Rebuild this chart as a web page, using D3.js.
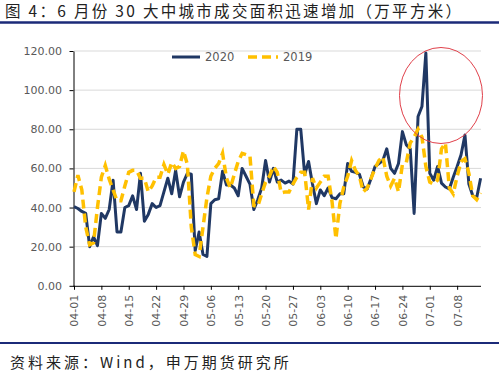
<!DOCTYPE html>
<html><head><meta charset="utf-8">
<script src="https://cdn.jsdelivr.net/npm/d3@7"></script>
<style>body{margin:0;background:#fff} svg{display:block}</style>
</head><body><svg id="c" width="499" height="372"></svg>
<script>
const titleText = "图 4：6 月份 30 大中城市成交面积迅速增加（万平方米）";
const sourceText = "资料来源：Wind，申万期货研究所";
const seriesNames = ["2020", "2019"];
const startDate = new Date(2020, 3, 1);
const endDate = new Date(2020, 6, 15); // exclusive -> last day 07-14
const tickLabels = ["04-01","04-08","04-15","04-22","04-29","05-06","05-13","05-20","05-27","06-03","06-10","06-17","06-24","07-01","07-08"];
const yTicks = [0, 20, 40, 60, 80, 100, 120];

const v2020 = [40.5,39.5,38,37,20,25,20.5,37,34.5,39,
  54,27.5,27.5,40,41,46,39,57.5,33,36.5,
  42,40,41,48,55,47,59,45.5,53,57.5,
  57,18,27.5,16,15,42,44,44.5,58.5,51.5,
  51.5,50,46,60,56,52,39,44,50,64,
  53,60,53,54,52.5,53.5,52,80,80,57,
  63.5,52,42,49,46,50,45,44.5,47,47,
  62.5,58.5,58,57,50.5,49.5,55,61,62.5,64,
  70,60,57.5,62.5,78.8,72,70,37,86.5,91.6,
  119,57.5,54,61,52.5,50.5,49.5,55.5,61,67,
  77,52,46,45,55];
const v2019 = [48,56.5,49,30,21,22,40,55.5,61.5,54.5,
  49,43.5,43.5,51,58,59,59,55,55,48,
  51,55.5,55.5,62,57,63,60,61,69,62,
  30,16,15,30,45,56,60,62.5,67.7,55,
  50,57,63.5,67.7,67,66.5,41,40.5,47,53,
  56,61,58,47.5,48,48,52,55.5,58,58,
  39,55,50,53,56,56,43,24,42,50.5,
  56,64,59,56,48,50,55,60,64,66,
  56,51,55,48,62,63,73,76,80,76,
  61,53,52,54,70,73,50,47,56,63.5,
  65,57.5,46,44,47.5];

const dates = d3.timeDay.range(startDate, endDate);
const parseTick = s => new Date(2020, +s.slice(0,2) - 1, +s.slice(3));
const tickDates = tickLabels.map(parseTick);

const svg = d3.select("#c");
const gray = "#595959";
const axisFont = "'DejaVu Sans', sans-serif";
const cjkFont = "'Noto Sans CJK SC', 'Noto Sans', sans-serif";

// title
svg.append("text").attr("x", 5).attr("y", 17)
  .attr("font-family", cjkFont).attr("font-size", 15.5).attr("letter-spacing", 2.3)
  .attr("fill", "#222").text(titleText);
svg.append("line").attr("x1", 0).attr("x2", 499).attr("y1", 22.5).attr("y2", 22.5)
  .attr("stroke", "#1B2A78").attr("stroke-width", 2.5);

// scales
const x = d3.scaleTime().domain([dates[0], dates[dates.length - 1]]).range([74, 480.6]);
const y = d3.scaleLinear().domain([0, 120]).range([285.8, 51]);

// gridlines
svg.append("g").selectAll("line").data(yTicks.filter(d => d > 0)).join("line")
  .attr("x1", 74).attr("x2", 481).attr("y1", d => y(d)).attr("y2", d => y(d))
  .attr("stroke", "#D9D9D9").attr("stroke-width", 1);

// y axis
const yAxis = svg.append("g").attr("transform", "translate(73.5,0)")
  .call(d3.axisLeft(y).tickValues(yTicks).tickSize(4).tickSizeOuter(0).tickPadding(7.5).tickFormat(d3.format(".2f")));
yAxis.selectAll("text").attr("font-family", axisFont).attr("font-size", 11).attr("fill", gray);
yAxis.selectAll("path,line").attr("stroke", "#000");

// x axis
const xAxis = svg.append("g").attr("transform", "translate(0,285.8)")
  .call(d3.axisBottom(x).tickValues(tickDates).tickSize(4).tickSizeOuter(0).tickFormat((d, i) => tickLabels[i]));
xAxis.select(".domain").attr("d", "M73,0.5H481");
xAxis.selectAll("path,line").attr("stroke", "#000");
xAxis.selectAll("text").attr("font-family", axisFont).attr("font-size", 11).attr("fill", gray)
  .attr("transform", "rotate(-90)").attr("text-anchor", "end")
  .attr("x", -9).attr("y", 0).attr("dy", "0.35em");

// lines
const line = d3.line().x((d, i) => x(dates[i])).y(d => y(d));
svg.append("path").datum(v2020).attr("d", line).attr("fill", "none")
  .attr("stroke", "#203864").attr("stroke-width", 3).attr("stroke-linejoin", "round");
svg.append("path").datum(v2019).attr("d", line).attr("fill", "none")
  .attr("stroke", "#FFC000").attr("stroke-width", 3.5).attr("stroke-dasharray", "9,5");

// legend
const leg = svg.append("g");
leg.append("line").attr("x1", 172).attr("x2", 200).attr("y1", 57).attr("y2", 57)
  .attr("stroke", "#203864").attr("stroke-width", 3);
leg.append("text").attr("x", 205).attr("y", 61).text(seriesNames[0]);
leg.append("line").attr("x1", 248).attr("x2", 278).attr("y1", 57).attr("y2", 57)
  .attr("stroke", "#FFC000").attr("stroke-width", 3.5).attr("stroke-dasharray", "9,5");
leg.append("text").attr("x", 283).attr("y", 61).text(seriesNames[1]);
leg.selectAll("text").attr("font-family", axisFont).attr("font-size", 11.5).attr("fill", gray);

// highlight ellipse
svg.append("ellipse").attr("cx", 441).attr("cy", 95.5).attr("rx", 41.5).attr("ry", 48)
  .attr("fill", "none").attr("stroke", "#E0404A").attr("stroke-width", 1);

// source
svg.append("line").attr("x1", 0).attr("x2", 499).attr("y1", 343).attr("y2", 343)
  .attr("stroke", "#1B2A78").attr("stroke-width", 2);
svg.append("text").attr("x", 10).attr("y", 368)
  .attr("font-family", cjkFont).attr("font-size", 15).attr("letter-spacing", 3)
  .attr("fill", "#222").text(sourceText);
</script></body></html>
